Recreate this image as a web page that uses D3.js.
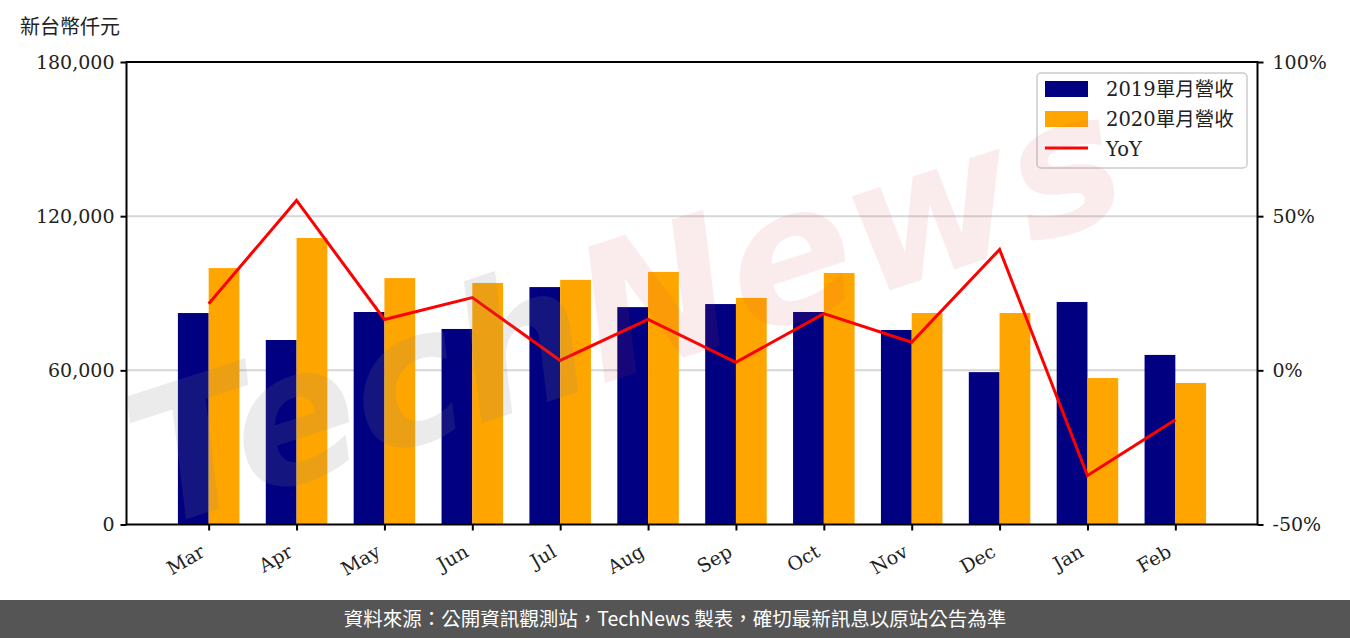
<!DOCTYPE html>
<html>
<head>
<meta charset="utf-8">
<script src="https://cdn.jsdelivr.net/npm/d3@7"></script>
<style>
  body { margin: 0; background: #fff; }
  svg { display: block; }
  .tick text { font-family: "DejaVu Serif", serif; }
</style>
</head>
<body>
<div id="chart"></div>
<script>
// chart values
var months = ["Mar", "Apr", "May", "Jun", "Jul", "Aug", "Sep", "Oct", "Nov", "Dec", "Jan", "Feb"];
var rev2019 = [82300, 71800, 82700, 76100, 92400, 84600, 85800, 82700, 75700, 59300, 86600, 66000];
var rev2020 = [99800, 111500, 95900, 94000, 95200, 98300, 88200, 97900, 82300, 82300, 57000, 55100];
var yoy = [21.6, 55.1, 16.5, 23.6, 3.2, 16.5, 2.6, 18.4, 9.1, 39.2, -34.1, -16.0];
var leftTicks = [0, 60000, 120000, 180000];
var rightTicks = [-50, 0, 50, 100];
var seriesNames = ["2019單月營收", "2020單月營收", "YoY"];

var W = 1350, H = 638;
var plotLeft = 126.5, plotRight = 1257.5, plotTop = 62, plotBottom = 524.5;
var barW = 0.35;

var svg = d3.select("#chart").append("svg")
  .attr("width", W)
  .attr("height", H);

// x is index based, margins like the source plot
var x = d3.scaleLinear()
  .domain([-barW - 0.585, months.length - 1 + barW + 0.585])
  .range([plotLeft, plotRight]);
var y = d3.scaleLinear().domain([0, 180000]).range([plotBottom, plotTop]);
var y2 = d3.scaleLinear().domain([-50, 100]).range([plotBottom, plotTop]);

// grid
svg.append("g").selectAll("line")
  .data([60000, 120000])
  .enter().append("line")
    .attr("x1", plotLeft).attr("x2", plotRight)
    .attr("y1", function(d) { return y(d); })
    .attr("y2", function(d) { return y(d); })
    .attr("stroke", "#d6d6d6")
    .attr("stroke-width", 2);

// bars
svg.append("g").selectAll("rect")
  .data(rev2019)
  .enter().append("rect")
    .attr("x", function(d, i) { return x(i - barW); })
    .attr("width", function(d, i) { return x(i) - x(i - barW); })
    .attr("y", function(d) { return y(d); })
    .attr("height", function(d) { return y(0) - y(d); })
    .attr("fill", "#000080");

svg.append("g").selectAll("rect")
  .data(rev2020)
  .enter().append("rect")
    .attr("x", function(d, i) { return x(i); })
    .attr("width", function(d, i) { return x(i + barW) - x(i); })
    .attr("y", function(d) { return y(d); })
    .attr("height", function(d) { return y(0) - y(d); })
    .attr("fill", "#ffa500");

// yoy line
var line = d3.line()
  .x(function(d, i) { return x(i); })
  .y(function(d) { return y2(d); });

svg.append("path")
  .datum(yoy)
  .attr("d", line)
  .attr("fill", "none")
  .attr("stroke", "#ff0000")
  .attr("stroke-width", 3);

// axes
var fmt = d3.format(",");
var axL = svg.append("g")
  .attr("transform", "translate(" + plotLeft + ",0)")
  .call(d3.axisLeft(y).tickValues(leftTicks).tickFormat(fmt).tickSize(6).tickPadding(6));
var axR = svg.append("g")
  .attr("transform", "translate(" + plotRight + ",0)")
  .call(d3.axisRight(y2).tickValues(rightTicks).tickFormat(function(d) { return d + "%"; }).tickSize(6).tickPadding(9));
var axB = svg.append("g")
  .attr("transform", "translate(0," + plotBottom + ")")
  .call(d3.axisBottom(x).tickValues(d3.range(months.length)).tickFormat(function(i) { return months[i]; }).tickSize(6));

[axL, axR, axB].forEach(function(ax) {
  ax.select(".domain").remove();
  ax.selectAll(".tick line").attr("stroke", "#000").attr("stroke-width", 2);
  ax.selectAll(".tick text").attr("fill", "#222").style("font-size", "19px");
});
axB.selectAll(".tick text")
  .attr("text-anchor", "end")
  .attr("dy", null)
  .attr("y", 0)
  .attr("transform", "translate(-3,31) rotate(-30)");

// frame
svg.append("rect")
  .attr("x", plotLeft).attr("y", plotTop)
  .attr("width", plotRight - plotLeft).attr("height", plotBottom - plotTop)
  .attr("fill", "none")
  .attr("stroke", "#000")
  .attr("stroke-width", 2);

// unit label
svg.append("text")
  .attr("x", 20).attr("y", 34)
  .style("font-family", "'Noto Sans CJK TC', sans-serif")
  .style("font-size", "20px")
  .attr("fill", "#222")
  .text("新台幣仟元");

// legend
var lg = svg.append("g").attr("transform", "translate(1037,73)");
lg.append("rect")
  .attr("width", 210).attr("height", 95)
  .attr("rx", 4)
  .attr("fill", "#fff").attr("fill-opacity", 0.8)
  .attr("stroke", "#cccccc").attr("stroke-width", 1.5);
var colors = ["#000080", "#ffa500", "#ff0000"];
seriesNames.forEach(function(name, i) {
  var cy = 16 + i * 30;
  if (i < 2) {
    lg.append("rect").attr("x", 8).attr("y", cy - 8).attr("width", 43).attr("height", 16).attr("fill", colors[i]);
  } else {
    lg.append("line").attr("x1", 8).attr("x2", 51).attr("y1", cy - 1).attr("y2", cy - 1)
      .attr("stroke", colors[i]).attr("stroke-width", 3);
  }
  lg.append("text")
    .attr("x", 69).attr("y", cy + 7)
    .style("font-family", "'DejaVu Serif', 'Noto Sans CJK TC', serif")
    .style("font-size", "19.5px")
    .attr("fill", "#222")
    .text(name);
});

// watermark
var wm = svg.append("text")
  .attr("transform", "translate(645,370) rotate(-18)")
  .attr("text-anchor", "middle")
  .style("font-family", "'DejaVu Sans', sans-serif")
  .style("font-weight", "bold")
  .style("font-style", "italic")
  .style("font-size", "185px");
wm.append("tspan").attr("fill", "#808080").attr("fill-opacity", 0.16).text("Tech");
wm.append("tspan").attr("fill", "#d04040").attr("fill-opacity", 0.1).text("News");

// footer
svg.append("rect")
  .attr("x", 0).attr("y", 600)
  .attr("width", W).attr("height", H - 600)
  .attr("fill", "#555555");
svg.append("text")
  .attr("x", 675).attr("y", 626)
  .attr("text-anchor", "middle")
  .style("font-family", "'Noto Sans CJK TC', sans-serif")
  .style("font-size", "19.5px")
  .attr("fill", "#fff")
  .text("資料來源：公開資訊觀測站，TechNews 製表，確切最新訊息以原站公告為準");
</script>
</body>
</html>
